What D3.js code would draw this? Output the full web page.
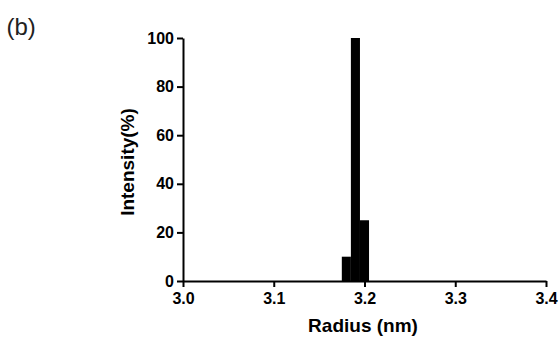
<!DOCTYPE html>
<html>
<head>
<meta charset="utf-8">
<script src="https://cdn.jsdelivr.net/npm/d3@7"></script>
<style>
  body { margin: 0; background: #fff; }
  text { font-family: "Liberation Sans", Arial, sans-serif; }
</style>
</head>
<body>
<svg width="560" height="337"></svg>
<script>
// histogram bins (radius, nm) and intensity (%)
const binStart = [3.175, 3.185, 3.195]
const binEnd = [3.185, 3.195, 3.205]
const intensity = [10, 100, 25]
const xTicks = [3.0, 3.1, 3.2, 3.3, 3.4]
const yTicks = [0, 20, 40, 60, 80, 100]

const svg = d3.select("svg")

const x = d3.scaleLinear().domain([3.0, 3.4]).range([183, 546])
const y = d3.scaleLinear().domain([0, 100]).range([281, 38])

// bars
svg.selectAll(".bar")
  .data(intensity)
  .enter()
  .append("rect")
  .attr("class", "bar")
  .attr("x", (d, i) => x(binStart[i]))
  .attr("width", (d, i) => x(binEnd[i]) - x(binStart[i]))
  .attr("y", (d) => y(d))
  .attr("height", (d) => y(0) - y(d))
  .attr("fill", "#000")

// axes
const xAxis = svg.append("g")
  .attr("transform", "translate(0," + y(0) + ")")
  .call(d3.axisBottom(x).tickValues(xTicks).tickFormat(d3.format(".1f")).tickSize(6).tickSizeOuter(0))
const yAxis = svg.append("g")
  .attr("transform", "translate(" + x(3.0) + ",0)")
  .call(d3.axisLeft(y).tickValues(yTicks).tickSize(6).tickSizeOuter(0))

;[xAxis, yAxis].forEach((g) => {
  g.select(".domain").attr("stroke", "#000").attr("stroke-width", 2)
  g.selectAll(".tick line").attr("stroke", "#000").attr("stroke-width", 2)
  g.selectAll(".tick text")
    .attr("fill", "#000")
    .style("font-size", "16px")
    .style("font-weight", "bold")
})
xAxis.selectAll(".tick text").attr("y", 12).attr("dy", "0.71em")
yAxis.selectAll(".tick text").attr("x", -9)

// axis titles
svg.append("text")
  .attr("x", 363)
  .attr("y", 331.5)
  .attr("text-anchor", "middle")
  .style("font-size", "19px")
  .style("font-weight", "bold")
  .text("Radius (nm)")

svg.append("text")
  .attr("transform", "translate(134,162) rotate(-90)")
  .attr("text-anchor", "middle")
  .style("font-size", "19px")
  .style("font-weight", "bold")
  .text("Intensity(%)")

// panel label
svg.append("text")
  .attr("x", 6.5)
  .attr("y", 34.5)
  .attr("fill", "#222")
  .style("font-size", "24px")
  .text("(b)")
</script>
</body>
</html>
